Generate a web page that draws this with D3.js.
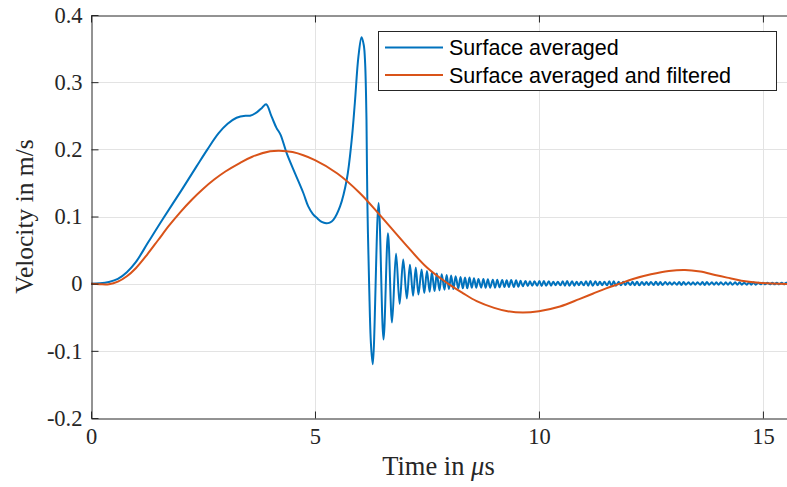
<!DOCTYPE html>
<html>
<head>
<meta charset="utf-8">
<script src="https://cdn.jsdelivr.net/npm/d3@7"></script>
<style>
  body { margin: 0; background: #fff; }
  svg { display: block; }
</style>
</head>
<body>
<div id="chart"></div>
<script>
// axis ticks
const xTicks = [0, 5, 10, 15];
const yTicks = [-0.2, -0.1, 0, 0.1, 0.2, 0.3, 0.4];
const seriesNames = ['Surface averaged', 'Surface averaged and filtered'];

// [time in us, velocity in m/s]
const surfaceAveraged = [
  [0, 0], [0.2, 0.0005], [0.4, 0.0025], [0.6, 0.007], [0.8, 0.017], [1.0, 0.032],
  [1.28, 0.062], [1.6, 0.096], [2.0, 0.137], [2.36, 0.175], [2.6, 0.2], [2.85, 0.224],
  [3.05, 0.238], [3.25, 0.247], [3.45, 0.25], [3.55, 0.25], [3.7, 0.255], [3.82, 0.262],
  [3.91, 0.267], [4.03, 0.249], [4.14, 0.232], [4.23, 0.222], [4.37, 0.194], [4.55, 0.165],
  [4.74, 0.135], [4.85, 0.115], [4.95, 0.104], [5.04, 0.098], [5.15, 0.092], [5.25, 0.09],
  [5.33, 0.091], [5.41, 0.095], [5.56, 0.115], [5.71, 0.155], [5.82, 0.214], [5.89, 0.269],
  [5.97, 0.338], [6.04, 0.367], [6.09, 0.355], [6.12, 0.328], [6.15, 0.244], [6.17, 0.12],
  [6.21, -0.004], [6.25, -0.09], [6.29, -0.12],
  [6.42, 0.12], [6.53, -0.083], [6.63, 0.075], [6.72, -0.058], [6.81, 0.045], [6.89, -0.03],
  [6.97, 0.036], [7.05, -0.022], [7.12, 0.028], [7.19, -0.018], [7.25, 0.024], [7.31, -0.016],
  [7.38, 0.021], [7.44, -0.014], [7.50, 0.019], [7.56, -0.012], [7.61, 0.017], [7.67, -0.011],
  [7.72, 0.015], [7.78, -0.010], [7.83, 0.014], [7.89, -0.009], [7.94, 0.013], [7.99, -0.008],
  [8.04, 0.012], [8.09, -0.008], [8.14, 0.011], [8.20, -0.007], [8.25, 0.010], [8.30, -0.007],
  [8.35, 0.009], [8.40, -0.007], [8.45, 0.009], [8.50, -0.006], [8.55, 0.008], [8.60, -0.006],
  [8.65, 0.007], [8.71, -0.006], [8.76, 0.007], [8.81, -0.006], [8.86, 0.0065], [8.91, -0.006],
  [8.97, 0.006], [9.02, -0.006], [9.07, 0.006], [9.12, -0.0055], [9.18, 0.0055], [9.23, -0.005],
  [9.28, 0.005], [9.33, -0.005], [9.38, 0.0055], [9.44, -0.005], [9.49, 0.005], [9.54, -0.0045],
  [9.59, 0.0045], [9.64, -0.004], [9.70, 0.004], [9.75, -0.0035], [9.80, 0.0035], [9.85, -0.003],
  [9.90, 0.0035], [9.96, -0.003], [10.01, 0.004], [10.06, -0.0035], [10.11, 0.004], [10.16, -0.003],
  [10.22, 0.0035], [10.27, -0.003], [10.32, 0.003], [10.37, -0.0025], [10.42, 0.003], [10.48, -0.0025],
  [10.53, 0.0035], [10.58, -0.003], [10.63, 0.004], [10.68, -0.003], [10.74, 0.0035], [10.79, -0.003],
  [10.84, 0.003], [10.89, -0.0025], [10.94, 0.003], [11.00, -0.0025], [11.05, 0.0035], [11.10, -0.003],
  [11.15, 0.004], [11.20, -0.003], [11.26, 0.0035], [11.31, -0.0025], [11.36, 0.003], [11.41, -0.0025],
  [11.46, 0.003], [11.52, -0.0025], [11.57, 0.0035], [11.62, -0.003], [11.67, 0.0035], [11.72, -0.003],
  [11.78, 0.003], [11.83, -0.0025], [11.88, 0.003], [11.93, -0.002], [11.98, 0.0025], [12.04, -0.002],
  [12.09, 0.003], [12.14, -0.0025], [12.19, 0.003], [12.24, -0.0025], [12.30, 0.0025], [12.35, -0.002],
  [12.40, 0.0025], [12.45, -0.002], [12.50, 0.0025], [12.56, -0.002], [12.61, 0.003], [12.66, -0.002],
  [12.71, 0.0025], [12.76, -0.002], [12.82, 0.0025], [12.87, -0.0015], [12.92, 0.002], [12.97, -0.0015],
  [13.02, 0.002], [13.08, -0.0015], [13.13, 0.0025], [13.18, -0.002], [13.23, 0.0025], [13.28, -0.0015],
  [13.34, 0.002], [13.39, -0.0015], [13.44, 0.002], [13.49, -0.0015], [13.54, 0.002], [13.60, -0.0015],
  [13.65, 0.0025], [13.70, -0.002], [13.75, 0.0025], [13.80, -0.0015], [13.86, 0.002], [13.91, -0.0015],
  [13.96, 0.002], [14.01, -0.0015], [14.06, 0.002], [14.12, -0.0015], [14.17, 0.002], [14.22, -0.0015],
  [14.27, 0.002], [14.32, -0.0015], [14.38, 0.002], [14.43, -0.0015], [14.48, 0.002], [14.53, -0.0015],
  [14.58, 0.0015], [14.64, -0.0015], [14.69, 0.002], [14.74, -0.0015], [14.79, 0.002], [14.84, -0.0015],
  [14.90, 0.0015], [14.95, -0.001], [15.00, 0.0015], [15.05, -0.001], [15.10, 0.0015], [15.16, -0.001],
  [15.21, 0.0015], [15.26, -0.001], [15.31, 0.0015], [15.36, -0.001], [15.42, 0.0015], [15.47, -0.001],
  [15.52, 0.0015], [15.57, -0.001]
];

const surfaceFiltered = [
  [0, 0], [0.2, -0.0008], [0.4, -0.0008], [0.6, 0.003], [0.8, 0.011], [1.0, 0.023],
  [1.25, 0.043], [1.5, 0.065], [1.75, 0.087], [2.0, 0.107], [2.25, 0.125], [2.5, 0.141],
  [2.75, 0.155], [3.0, 0.167], [3.33, 0.18], [3.6, 0.189], [4.0, 0.197], [4.2, 0.198],
  [4.5, 0.196], [5.0, 0.184], [5.5, 0.164], [6.0, 0.135], [6.45, 0.102], [7.0, 0.06],
  [7.5, 0.024], [7.97, 0], [8.3, -0.014], [8.61, -0.026], [9.0, -0.036], [9.3, -0.041],
  [9.64, -0.043], [10.0, -0.041], [10.47, -0.034], [10.9, -0.023], [11.2, -0.015], [11.5, -0.007],
  [11.8, 0], [12.1, 0.007], [12.5, 0.014], [12.9, 0.019], [13.26, 0.0205], [13.6, 0.018],
  [13.93, 0.013], [14.2, 0.009], [14.52, 0.0045], [14.97, 0.001], [15.57, -0.0005]
];

const W = 787, H = 487;
const mLeft = 91, mTop = 15, mRight = 788, mBottom = 418;
const ink = '#262626';
const colors = ['#0072BD', '#D95319'];

const svg = d3.select('#chart').append('svg').attr('width', W).attr('height', H);

const x = d3.scaleLinear().domain([0, 15.56]).range([mLeft, mRight]);
const y = d3.scaleLinear().domain([-0.2, 0.4]).range([mBottom, mTop]);

svg.append('clipPath').attr('id', 'plotclip')
  .append('rect').attr('x', mLeft).attr('y', mTop).attr('width', mRight - mLeft).attr('height', mBottom - mTop);

// grid
svg.append('g').selectAll('line')
  .data(yTicks.slice(1, -1))
  .join('line')
  .attr('x1', mLeft).attr('x2', mRight)
  .attr('y1', (d) => Math.round(y(d)) + 0.5).attr('y2', (d) => Math.round(y(d)) + 0.5)
  .attr('stroke', '#e3e3e3').attr('stroke-width', 1);
svg.append('g').selectAll('line')
  .data(xTicks.slice(1))
  .join('line')
  .attr('x1', (d) => Math.round(x(d)) + 0.5).attr('x2', (d) => Math.round(x(d)) + 0.5)
  .attr('y1', mTop).attr('y2', mBottom)
  .attr('stroke', '#e3e3e3').attr('stroke-width', 1);

// curves
const line = d3.line()
  .x((d) => x(d[0]))
  .y((d) => y(d[1]))
  .curve(d3.curveCatmullRom.alpha(0.5));

const plot = svg.append('g').attr('clip-path', 'url(#plotclip)');
plot.append('path').datum(surfaceAveraged)
  .attr('d', line).attr('fill', 'none')
  .attr('stroke', colors[0]).attr('stroke-width', 2).attr('stroke-linejoin', 'round');
plot.append('path').datum(surfaceFiltered)
  .attr('d', line).attr('fill', 'none')
  .attr('stroke', colors[1]).attr('stroke-width', 2).attr('stroke-linejoin', 'round');

// axes (ticks point inward, box on)
const styleAxis = (g) => {
  g.select('.domain').attr('stroke', ink);
  g.selectAll('.tick line').attr('stroke', ink);
  g.selectAll('.tick text').attr('fill', ink)
    .style('font-family', '"Liberation Serif", "Times New Roman", serif')
    .style('font-size', '22.5px');
};
const fmt = (d) => (d === 0 ? '0' : String(d));

svg.append('g')
  .attr('transform', `translate(0,${mBottom + 0.5})`)
  .call(d3.axisBottom(x).tickValues(xTicks).tickFormat(fmt).tickSize(-7).tickSizeOuter(0).tickPadding(10))
  .call(styleAxis);
svg.append('g')
  .attr('transform', `translate(${mLeft + 0.5},0)`)
  .call(d3.axisLeft(y).tickValues(yTicks).tickFormat(fmt).tickSize(-7).tickSizeOuter(0).tickPadding(9))
  .call(styleAxis);
svg.append('g')
  .attr('transform', `translate(0,${mTop + 0.5})`)
  .call(d3.axisTop(x).tickValues(xTicks).tickFormat('').tickSize(-7).tickSizeOuter(0))
  .call(styleAxis);

// axis labels
svg.append('text')
  .attr('x', (mLeft + mRight) / 2 - 1).attr('y', 475)
  .attr('text-anchor', 'middle').attr('fill', ink)
  .style('font-family', '"Liberation Serif", "Times New Roman", serif')
  .style('font-size', '26.5px')
  .call((t) => {
    t.append('tspan').text('Time in ');
    t.append('tspan').attr('font-style', 'italic').text('μ');
    t.append('tspan').text('s');
  });

svg.append('text')
  .attr('transform', `translate(33,${(mTop + mBottom) / 2}) rotate(-90)`)
  .attr('text-anchor', 'middle').attr('fill', ink)
  .style('font-family', '"Liberation Serif", "Times New Roman", serif')
  .style('font-size', '25.5px')
  .text('Velocity in m/s');

// legend
const lg = svg.append('g');
lg.append('rect')
  .attr('x', 378.5).attr('y', 31.5).attr('width', 398).attr('height', 59)
  .attr('fill', '#fff').attr('stroke', ink).attr('stroke-width', 1);
seriesNames.forEach((name, i) => {
  const yy = 47.5 + i * 27.5;
  lg.append('line')
    .attr('x1', 385).attr('x2', 443).attr('y1', yy).attr('y2', yy)
    .attr('stroke', colors[i]).attr('stroke-width', 2);
  lg.append('text')
    .attr('x', 449).attr('y', yy + 7.5)
    .attr('fill', '#000')
    .style('font-family', '"Liberation Sans", Arial, sans-serif')
    .style('font-size', '21.5px')
    .text(name);
});
</script>
</body>
</html>
